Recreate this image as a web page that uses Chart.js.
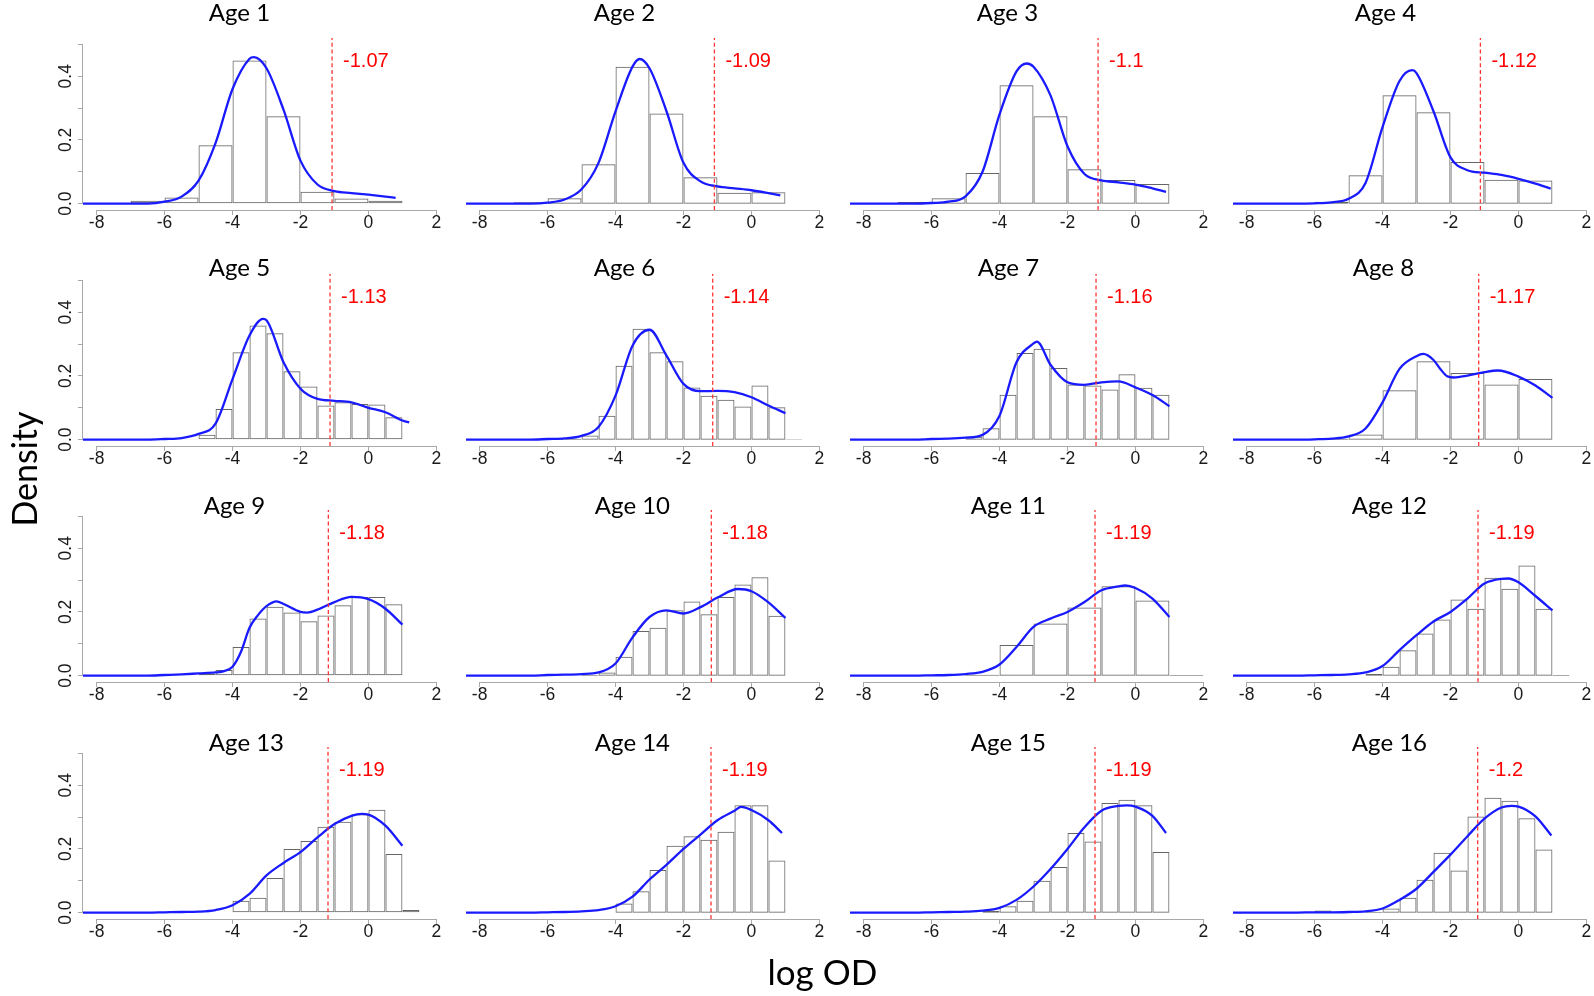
<!DOCTYPE html>
<html><head><meta charset="utf-8">
<script src="https://cdn.jsdelivr.net/npm/chart.js@4.4.1/dist/chart.umd.min.js"></script>
<style>
html,body{margin:0;padding:0;background:#fff;}
body{width:1594px;height:996px;position:relative;overflow:hidden;}
canvas{position:absolute;}
</style></head><body>
<canvas id="labels" width="1594" height="996" style="left:0;top:0"></canvas>
<script>
// ---------------- DATA ----------------
const ages = ['Age 1','Age 2','Age 3','Age 4','Age 5','Age 6','Age 7','Age 8',
              'Age 9','Age 10','Age 11','Age 12','Age 13','Age 14','Age 15','Age 16'];
const cutoffs = [-1.07,-1.09,-1.1,-1.12,-1.13,-1.14,-1.16,-1.17,-1.18,-1.18,-1.19,-1.19,-1.19,-1.19,-1.19,-1.2];
const cutoffLabelY = 0.447;
const binStart = [-7,-7,-7,-7,-6,-6,-5,-6,-5,-5,-5,-4.5,-4,-4,-4.5,-6];
const binWidth = [1,1,1,1,0.5,0.5,0.5,1,0.5,0.5,1,0.5,0.5,0.5,0.5,0.5];
const histDensity = [
  [0.009,0.019,0.183,0.449,0.274,0.037,0.016,0.009],
  [0.004,0.017,0.124,0.43,0.283,0.083,0.034,0.036],
  [0.005,0.017,0.096,0.372,0.274,0.108,0.074,0.062],
  [0.002,0.006,0.089,0.34,0.287,0.131,0.075,0.073],
  [0.002,0.002,0.015,0.096,0.274,0.358,0.334,0.215,0.167,0.107,0.117,0.112,0.11,0.07,0.001],
  [0.003,0.003,0.013,0.075,0.232,0.348,0.274,0.246,0.164,0.138,0.125,0.104,0.17,0.102,0.001],
  [0.009,0.036,0.141,0.272,0.285,0.225,0.173,0.17,0.157,0.205,0.163,0.141],
  [0.002,0.016,0.155,0.246,0.209,0.173,0.19],
  [0.005,0.018,0.09,0.179,0.216,0.198,0.171,0.189,0.221,0.247,0.247,0.224],
  [0.002,0.01,0.059,0.14,0.15,0.205,0.233,0.193,0.247,0.286,0.309,0.188],
  [0.003,0.096,0.164,0.214,0.281,0.236,0.002],
  [0.005,0.028,0.08,0.132,0.176,0.239,0.21,0.307,0.273,0.346,0.21,0.002],
  [0.037,0.047,0.109,0.2,0.225,0.27,0.285,0.309,0.323,0.184,0.008],
  [0.029,0.067,0.134,0.21,0.24,0.229,0.254,0.337,0.337,0.164],
  [0.005,0.02,0.037,0.1,0.143,0.25,0.223,0.344,0.354,0.337,0.19],
  [0.007,0,0,0.002,0.013,0.047,0.103,0.188,0.132,0.302,0.361,0.351,0.296,0.198]
];
const densityX = [
  [-8.4,-6.5,-6,-5.5,-5,-4.5,-4,-3.5,-3.37,-3,-2.5,-2,-1.5,-1,-0.5,0,0.5,0.8],
  [-8.4,-6.5,-6,-5.5,-5,-4.5,-4,-3.5,-3.29,-3,-2.5,-2,-1.5,-1,-0.5,0,0.5,0.85],
  [-8.4,-6.5,-6,-5.5,-5,-4.5,-4,-3.5,-3.2,-3,-2.5,-2,-1.5,-1,-0.5,0,0.5,0.9],
  [-8.4,-6.5,-6,-5.5,-5,-4.5,-4,-3.5,-3.13,-3,-2.5,-2,-1.5,-1,-0.5,0,0.5,0.95],
  [-8.4,-6.5,-6,-5.5,-5,-4.5,-4,-3.5,-3.1,-3,-2.5,-2,-1.5,-1,-0.5,0,0.5,1,1.2],
  [-8.4,-6.5,-6,-5.5,-5,-4.5,-4,-3.5,-3,-2.5,-2,-1.5,-1,-0.5,0,0.5,1],
  [-8.4,-6.5,-6,-5.5,-5,-4.5,-4,-3.5,-3,-2.9,-2.5,-2,-1.5,-1,-0.5,0,0.5,1],
  [-8.4,-6.5,-6,-5.5,-5,-4.5,-4,-3.5,-3,-2.8,-2.5,-2.3,-2.1,-1.9,-1.5,-1,-0.6,0,0.5,1],
  [-8.4,-6.5,-6,-5.5,-5,-4.5,-4.25,-4,-3.75,-3.5,-3.25,-3,-2.7,-2.5,-2,-1.8,-1.5,-1,-0.5,0,0.5,1],
  [-8.4,-6.5,-6,-5.5,-5,-4.5,-4,-3.5,-3,-2.5,-2,-1.5,-1,-0.4,0,0.5,1],
  [-8.4,-6.5,-6,-5.5,-5,-4.5,-4,-3.5,-3,-2.5,-2,-1.5,-1,-0.5,-0.3,0,0.5,1],
  [-8.4,-6.5,-6,-5.5,-5,-4.5,-4,-3.5,-3,-2.5,-2,-1.5,-1,-0.5,-0.3,0,0.5,1],
  [-8.4,-6.5,-6,-5.5,-5,-4.5,-4,-3.5,-3,-2.5,-2,-1.5,-1,-0.5,-0.2,0,0.5,1],
  [-8.4,-6.5,-6,-5.5,-5,-4.5,-4,-3.5,-3,-2.5,-2,-1.5,-1,-0.5,-0.3,0,0.5,0.9],
  [-8.4,-6.5,-6,-5.5,-5,-4.5,-4,-3.5,-3,-2.5,-2,-1.5,-1,-0.5,-0.25,0,0.5,0.9],
  [-8.4,-6.5,-6,-5.5,-5,-4.5,-4,-3.5,-3,-2.5,-2,-1.5,-1,-0.5,-0.2,0,0.5,0.97]
];
const densityY = [
  [0,0,0.006,0.022,0.072,0.19,0.36,0.455,0.46,0.425,0.295,0.135,0.06,0.039,0.033,0.028,0.022,0.018],
  [0,0,0.003,0.013,0.045,0.128,0.29,0.43,0.454,0.425,0.29,0.128,0.07,0.054,0.048,0.042,0.033,0.026],
  [0,0,0.002,0.006,0.023,0.1,0.28,0.415,0.44,0.43,0.34,0.18,0.093,0.073,0.067,0.06,0.048,0.037],
  [0,0,0.001,0.004,0.015,0.065,0.24,0.385,0.419,0.41,0.29,0.145,0.105,0.097,0.09,0.078,0.063,0.047],
  [0,0,0.002,0.005,0.018,0.05,0.19,0.327,0.379,0.375,0.243,0.16,0.128,0.122,0.117,0.1,0.086,0.06,0.054],
  [0,0,0.002,0.004,0.012,0.04,0.138,0.295,0.345,0.264,0.175,0.152,0.153,0.149,0.133,0.107,0.083],
  [0,0,0.002,0.003,0.006,0.015,0.075,0.243,0.302,0.308,0.235,0.18,0.172,0.18,0.183,0.164,0.14,0.105],
  [0,0,0.001,0.003,0.01,0.035,0.117,0.222,0.262,0.269,0.25,0.222,0.199,0.195,0.201,0.212,0.217,0.198,0.17,0.131],
  [0,0,0.002,0.004,0.007,0.01,0.014,0.028,0.075,0.15,0.19,0.218,0.233,0.225,0.2,0.198,0.207,0.231,0.247,0.24,0.21,0.16],
  [0,0,0.002,0.003,0.005,0.01,0.038,0.12,0.184,0.205,0.195,0.215,0.245,0.272,0.265,0.23,0.181],
  [0,0,0.001,0.002,0.005,0.012,0.035,0.09,0.153,0.179,0.2,0.231,0.268,0.28,0.283,0.275,0.242,0.184],
  [0,0,0.001,0.002,0.004,0.01,0.03,0.08,0.127,0.17,0.2,0.242,0.289,0.304,0.305,0.293,0.25,0.205],
  [0,0,0.001,0.002,0.003,0.008,0.023,0.059,0.117,0.156,0.19,0.236,0.278,0.304,0.31,0.308,0.273,0.21],
  [0,0,0.001,0.002,0.004,0.008,0.02,0.05,0.104,0.15,0.2,0.245,0.29,0.32,0.332,0.322,0.29,0.25],
  [0,0,0.001,0.002,0.003,0.006,0.015,0.04,0.082,0.137,0.2,0.268,0.32,0.335,0.337,0.333,0.304,0.25],
  [0,0,0.001,0.001,0.002,0.004,0.013,0.04,0.075,0.128,0.182,0.24,0.295,0.33,0.335,0.333,0.302,0.242]
];
const xTicks = [-8,-6,-4,-2,0,2];
const xTickLabels = ['-8','-6','-4','-2','0','2'];
const yTicks = [0,0.1,0.2,0.3,0.4,0.5];
const yTickLabels = ['0.0','','0.2','','0.4',''];
const xRange = [-8.4, 2.4];
const yRange = [-0.02, 0.52];
const yAxisTitle = 'Density';
const xAxisTitle = 'log OD';

// ---------------- LAYOUT / STYLE ----------------
const COL_ZERO = [368.3, 751.6, 1135, 1518.3];
const ROW_CHART_TOP = [38.4, 273.9, 510.4, 746.7];
const ROW_TITLE_BASE = [20.7, 275.7, 513.5, 750.5];
const TITLE_DX = [-129,-127,-128,-133, -129,-127,-127,-135, -134,-119,-127,-129, -122,-119,-127,-129];
const PLOT_W = 367, PLOT_H = 172;
const Y_AXIS_W = 50, X_AXIS_H = 30, PAD_T = 40, PAD_R = 10;
const AXIS_COLOR = '#a9a9a9';
const TICK_FONT = "'Liberation Sans', Arial, sans-serif";
const TITLE_FONT = "Lato, 'Open Sans', sans-serif";

const rPlugin = {
  id: 'rstyle',
  afterDraw(chart, args, opts) {
    const {ctx, chartArea} = chart;
    const xs = chart.scales.x, ys = chart.scales.y;
    const i = opts.panel, col = i % 4, row = Math.floor(i / 4);
    ctx.save();
    ctx.strokeStyle = AXIS_COLOR; ctx.lineWidth = 1;
    const yb = Math.round(chartArea.bottom) + 0.5;
    ctx.beginPath();
    ctx.moveTo(xs.getPixelForValue(xTicks[0]), yb);
    ctx.lineTo(xs.getPixelForValue(xTicks[xTicks.length - 1]), yb);
    ctx.stroke();
    if (col === 0) {
      const xl = Math.round(chartArea.left) - 0.5;
      ctx.beginPath();
      ctx.moveTo(xl, ys.getPixelForValue(yTicks[0]));
      ctx.lineTo(xl, ys.getPixelForValue(yTicks[yTicks.length - 1]));
      ctx.stroke();
      ctx.fillStyle = '#1a1a1a';
      ctx.font = "17.5px " + TICK_FONT;
      ctx.textAlign = 'center'; ctx.textBaseline = 'middle';
      yTicks.forEach((v, k) => {
        if (!yTickLabels[k]) return;
        ctx.save();
        ctx.translate(chartArea.left - 17.5, ys.getPixelForValue(v));
        ctx.rotate(-Math.PI / 2);
        ctx.fillText(yTickLabels[k], 0, 1);
        ctx.restore();
      });
    }
    const canvasTop = parseFloat(chart.canvas.style.top);
    ctx.fillStyle = '#000';
    ctx.font = "24px " + TITLE_FONT;
    ctx.textAlign = 'center'; ctx.textBaseline = 'alphabetic';
    ctx.fillText(ages[i], xs.getPixelForValue(0) + TITLE_DX[i], ROW_TITLE_BASE[row] - canvasTop);
    ctx.fillStyle = '#ff0000';
    ctx.font = "20px " + TICK_FONT;
    ctx.textAlign = 'left'; ctx.textBaseline = 'middle';
    ctx.fillText(String(cutoffs[i]), xs.getPixelForValue(cutoffs[i]) + 11, ys.getPixelForValue(cutoffLabelY));
    ctx.restore();
  }
};

for (let i = 0; i < 16; i++) {
  const col = i % 4, row = Math.floor(i / 4);
  const unit = PLOT_W / (xRange[1] - xRange[0]);
  const chartLeft = COL_ZERO[col] + xRange[0] * unit;
  const left = Math.round(chartLeft - Y_AXIS_W);
  const top = Math.round(ROW_CHART_TOP[row] - PAD_T);
  const W = Y_AXIS_W + PLOT_W + PAD_R, H = PAD_T + PLOT_H + X_AXIS_H;
  const cv = document.createElement('canvas');
  cv.width = W; cv.height = H;
  cv.style.left = left + 'px'; cv.style.top = top + 'px';
  cv.style.width = W + 'px'; cv.style.height = H + 'px';
  document.body.appendChild(cv);

  const bars = histDensity[i].map((h, k) => ({x: binStart[i] + (k + 0.5) * binWidth[i], y: h}));
  const dens = densityX[i].map((x, k) => ({x: x, y: densityY[i][k]}));
  const cut = [{x: cutoffs[i], y: yRange[0]}, {x: cutoffs[i], y: yRange[1]}];

  new Chart(cv, {
    type: 'bar',
    data: {
      datasets: [
        {type: 'line', data: cut, borderColor: '#ff3535', borderWidth: 1.3, borderDash: [4, 2.8],
         pointRadius: 0, fill: false, order: 0},
        {type: 'line', data: dens, borderColor: '#1a1aff', borderWidth: 2.3, pointRadius: 0,
         cubicInterpolationMode: 'monotone', fill: false, order: 1},
        {type: 'bar', data: bars, backgroundColor: 'rgba(0,0,0,0)', borderColor: '#666666',
         borderWidth: 1, borderSkipped: false,
         barPercentage: 1, categoryPercentage: 1, inflateAmount: 0, order: 2}
      ]
    },
    options: {
      responsive: false, animation: false, devicePixelRatio: 1, events: [],
      layout: {padding: {top: PAD_T, right: PAD_R, left: 0, bottom: 0}},
      plugins: {legend: {display: false}, title: {display: false}, tooltip: {enabled: false},
                rstyle: {panel: i}},
      scales: {
        x: {
          type: 'linear', min: xRange[0], max: xRange[1], offset: false,
          afterBuildTicks: s => { s.ticks = xTicks.map(v => ({value: v})); },
          afterFit: s => { s.height = X_AXIS_H; },
          border: {display: false},
          grid: {display: true, offset: false, drawOnChartArea: false, drawTicks: true, tickLength: 5,
                 color: AXIS_COLOR, lineWidth: 1},
          ticks: {autoSkip: false, maxRotation: 0, minRotation: 0, padding: -2, color: '#1a1a1a',
                  font: {family: TICK_FONT, size: 17.5},
                  callback: (v) => { const k = xTicks.indexOf(v); return k >= 0 ? xTickLabels[k] : ''; }}
        },
        y: {
          type: 'linear', min: yRange[0], max: yRange[1], beginAtZero: false,
          afterBuildTicks: s => { s.ticks = yTicks.map(v => ({value: v})); },
          afterFit: s => { s.width = Y_AXIS_W; },
          border: {display: false},
          grid: {display: col === 0, drawOnChartArea: false, drawTicks: true, tickLength: 5,
                 color: AXIS_COLOR, lineWidth: 1},
          ticks: {display: false}
        }
      }
    },
    plugins: [rPlugin]
  });
}

const lc = document.getElementById('labels').getContext('2d');
lc.fillStyle = '#000';
lc.font = "34px " + TITLE_FONT;
lc.textAlign = 'center'; lc.textBaseline = 'alphabetic';
lc.save(); lc.translate(37, 469); lc.rotate(-Math.PI / 2); lc.fillText(yAxisTitle, 0, 0); lc.restore();
lc.font = "35px " + TITLE_FONT;
lc.fillText(xAxisTitle, 822.5, 985);
</script>
</body></html>
